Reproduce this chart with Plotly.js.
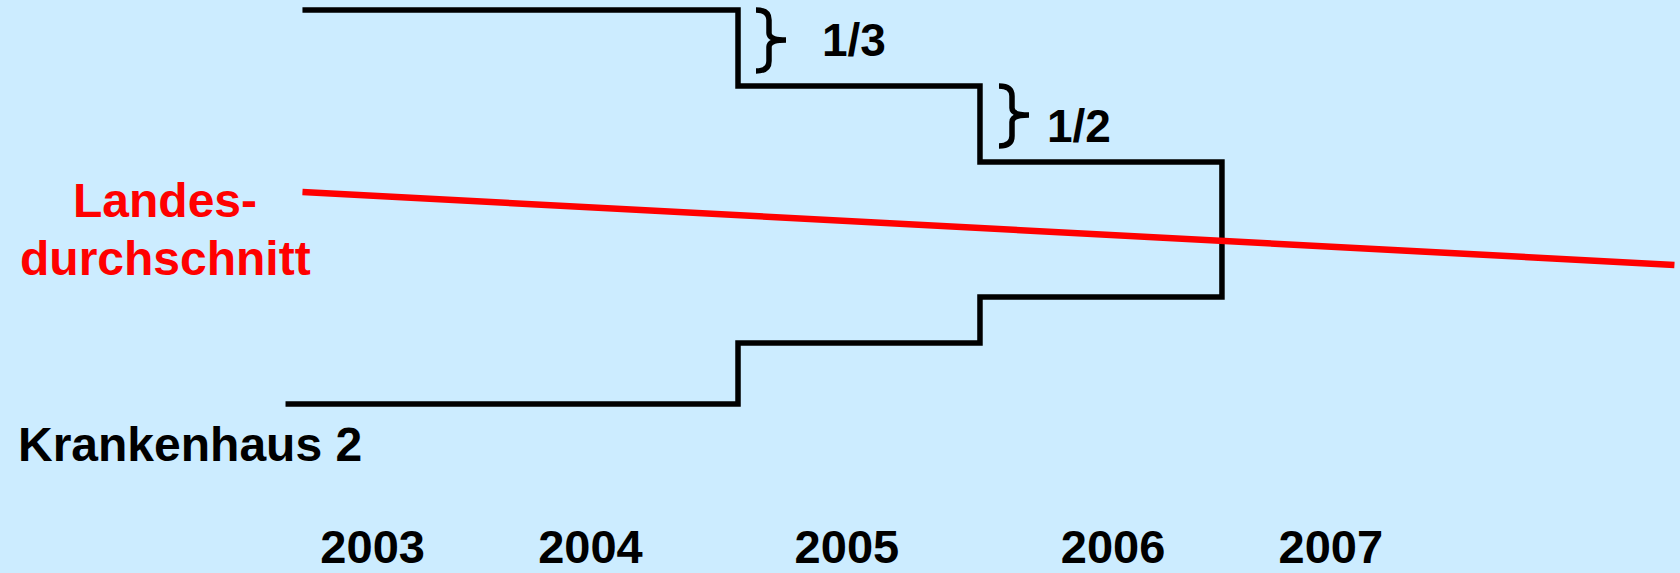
<!DOCTYPE html>
<html>
<head>
<meta charset="utf-8">
<script src="https://cdn.plot.ly/plotly-3.0.1.min.js"></script>
<style>html,body{margin:0;padding:0;background:#CCECFF;}#chart{width:1680px;height:573px;}</style>
</head>
<body>
<div id="chart"></div>
<script>
// Years shown on the x axis
const years = [2003, 2004, 2005, 2006, 2007];
const yearLabels = ['2003', '2004', '2005', '2006', '2007'];

// Krankenhaus 2 corridor (upper bound steps down, lower bound steps up), drawn as one step line
const hospitalX = [2003.2, 2005, 2006, 2007, 2006, 2005, 2003.13];
const hospitalY = [98, 82.8, 67.6, 40.6, 31.4, 19.2, 19.2];

// Landesdurchschnitt (state average)
const stateX = [2003.2, 2008.87];
const stateY = [61.6, 47];

const FONT = 'Liberation Sans, Arial, sans-serif';
const W = 1680, PH = 513;

// curly brace decoration, geometry given in page pixels, converted to paper units
function bracePath(x0, xs, x1, y0, ym, y1) {
  const p = (x, y) => (x / W).toFixed(5) + ',' + (1 - y / PH).toFixed(5);
  const r = 10, k = 7;
  return 'M' + p(x0, y0) + ' Q' + p(xs, y0) + ' ' + p(xs, y0 + r) +
         ' L' + p(xs, ym - k) + ' Q' + p(xs, ym) + ' ' + p(x1, ym) +
         ' Q' + p(xs, ym) + ' ' + p(xs, ym + k) +
         ' L' + p(xs, y1 - r) + ' Q' + p(xs, y1) + ' ' + p(x0, y1);
}

const traces = [
  {x: hospitalX, y: hospitalY, mode: 'lines', line: {shape: 'hv', color: '#000000', width: 5.5}, hoverinfo: 'skip', name: 'Krankenhaus 2'},
  {x: stateX, y: stateY, mode: 'lines', line: {color: '#FF0000', width: 6.5}, hoverinfo: 'skip', name: 'Landesdurchschnitt'}
];

const layout = {
  width: 1680, height: 573,
  margin: {l: 0, r: 0, t: 0, b: 60, pad: 0},
  paper_bgcolor: '#CCECFF', plot_bgcolor: '#CCECFF',
  showlegend: false,
  xaxis: {
    range: [2001.95, 2008.893], showgrid: false, zeroline: false, showline: false,
    tickvals: [2003.49, 2004.39, 2005.45, 2006.55, 2007.45],
    ticktext: yearLabels.map(t => '<b>' + t + '</b>'),
    ticks: '', ticklabelstandoff: 2,
    tickfont: {family: FONT, size: 47, color: '#000000'}
  },
  yaxis: {range: [-2.6, 100], visible: false},
  shapes: [
    {type: 'path', xref: 'paper', yref: 'paper', path: bracePath(756, 769, 786, 10, 40, 71), line: {color: '#000000', width: 5.5}},
    {type: 'path', xref: 'paper', yref: 'paper', path: bracePath(999, 1012, 1029, 86, 115, 146), line: {color: '#000000', width: 5.5}}
  ],
  annotations: [
    {xref: 'paper', yref: 'paper', x: 165/1680, y: 1 - 200/513, text: '<b>Landes-</b>', showarrow: false, xanchor: 'center', yanchor: 'middle', font: {family: FONT, size: 48, color: '#FF0000'}},
    {xref: 'paper', yref: 'paper', x: 165/1680, y: 1 - 258/513, text: '<b>durchschnitt</b>', showarrow: false, xanchor: 'center', yanchor: 'middle', font: {family: FONT, size: 48, color: '#FF0000'}},
    {xref: 'paper', yref: 'paper', x: 16/1680, y: 1 - 444/513, text: '<b>Krankenhaus 2</b>', showarrow: false, xanchor: 'left', yanchor: 'middle', font: {family: FONT, size: 48, color: '#000000'}},
    {xref: 'paper', yref: 'paper', x: 854/1680, y: 1 - 40/513, text: '<b>1/3</b>', showarrow: false, xanchor: 'center', yanchor: 'middle', font: {family: FONT, size: 46, color: '#000000'}},
    {xref: 'paper', yref: 'paper', x: 1079/1680, y: 1 - 126/513, text: '<b>1/2</b>', showarrow: false, xanchor: 'center', yanchor: 'middle', font: {family: FONT, size: 46, color: '#000000'}}
  ]
};

Plotly.newPlot('chart', traces, layout, {staticPlot: true, displayModeBar: false});
</script>
</body>
</html>
